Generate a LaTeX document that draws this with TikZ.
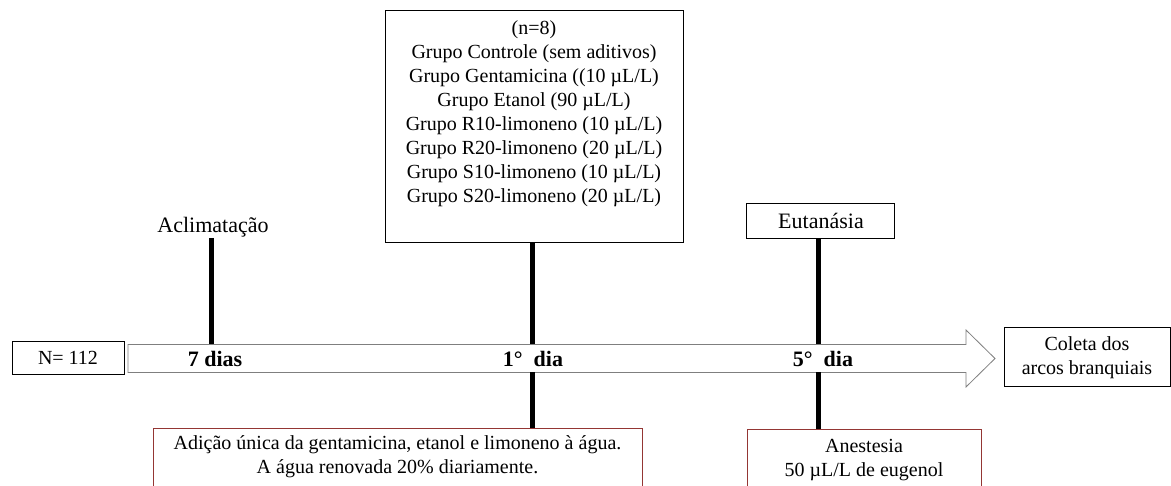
\documentclass[tikz,border=0pt]{standalone}
\usepackage{fontspec}
\setmainfont{Liberation Serif}
\definecolor{boxred}{HTML}{943634}
\definecolor{arrowgray}{HTML}{7F7F7F}
\begin{document}
\begin{tikzpicture}[x=1pt,y=-1pt,
  box/.style={draw=black, line width=0.8pt, inner sep=0pt, fill=white},
  redbox/.style={draw=boxred, line width=0.8pt, inner sep=0pt, fill=white},
  txt/.style={font=\fontsize{20}{24}\selectfont, align=center, inner sep=0pt},
  bigtxt/.style={font=\fontsize{22}{26}\selectfont, inner sep=0pt},
  daytxt/.style={font=\fontsize{22}{26}\selectfont\bfseries, inner sep=0pt},
  tick/.style={line width=5pt, draw=black}]
\useasboundingbox (0,0) rectangle (1171,486);
\clip (0,0) rectangle (1171,486);

% timeline arrow
\draw[draw=arrowgray, line width=0.8pt, fill=white]
  (128,344.5) -- (966,344.5) -- (966,330) -- (995,358.5) -- (966,387) -- (966,372.5) -- (128,372.5) -- cycle;
\coordinate (a7top) at (211,344.5);
\coordinate (a1top) at (532,344.5);
\coordinate (a1bot) at (532,372.5);
\coordinate (a5top) at (818,344.5);
\coordinate (a5bot) at (818,372.5);

% day labels
\node[daytxt] (d7) at (215,358.5) {7 dias};
\node[daytxt] (d1) at (533,358.5) {1°\ \ dia};
\node[daytxt] (d5) at (823,358.5) {5°\ \ dia};

% N box
\node[box, minimum width=112pt, minimum height=33pt] (nbox) at (68,358) {};
\node[txt] (ntext) at (nbox.center) {N= 112};

% Aclimatacao
\node[bigtxt] (acl) at (213,227) {Aclimatação};
\coordinate (aclbot) at (211,238);
\draw[tick] (aclbot) -- (a7top);

% top box
\node[box, minimum width=298pt, minimum height=232pt] (topbox) at (534,126) {};
\node[txt] (toptext) at (534,114) {(n=8)\\
Grupo Controle (sem aditivos)\\
Grupo Gentamicina ((10 µL/L)\\
Grupo Etanol (90 µL/L)\\
Grupo R10-limoneno (10 µL/L)\\
Grupo R20-limoneno (20 µL/L)\\
Grupo S10-limoneno (10 µL/L)\\
Grupo S20-limoneno (20 µL/L)};
\draw[tick] (topbox.south -| a1top) -- (a1top);

% Eutanasia
\node[box, minimum width=148pt, minimum height=35pt] (eut) at (820,220.5) {};
\node[bigtxt] (eutt) at (821,221) {Eutanásia};
\draw[tick] (eut.south -| a5top) -- (a5top);

% Coleta box
\node[box, minimum width=166pt, minimum height=59pt] (col) at (1087,356.5) {};
\node[txt] (colt) at (1087,357.5) {Coleta dos\\arcos branquiais};

% bottom boxes
\node[redbox, minimum width=489pt, minimum height=100pt] (botL) at (397.5,478) {};
\node[txt] (botLt) at (397.5,456.5) {Adição única da gentamicina, etanol e limoneno à água.\\A água renovada 20\% diariamente.};
\draw[tick] (a1bot) -- (botL.north -| a1bot);

\node[redbox, minimum width=234pt, minimum height=100pt] (botR) at (864,479) {};
\node[txt] (botRt) at (864,460.5) {Anestesia\\50 µL/L de eugenol};
\draw[tick] (a5bot) -- (botR.north -| a5bot);
\end{tikzpicture}
\end{document}
